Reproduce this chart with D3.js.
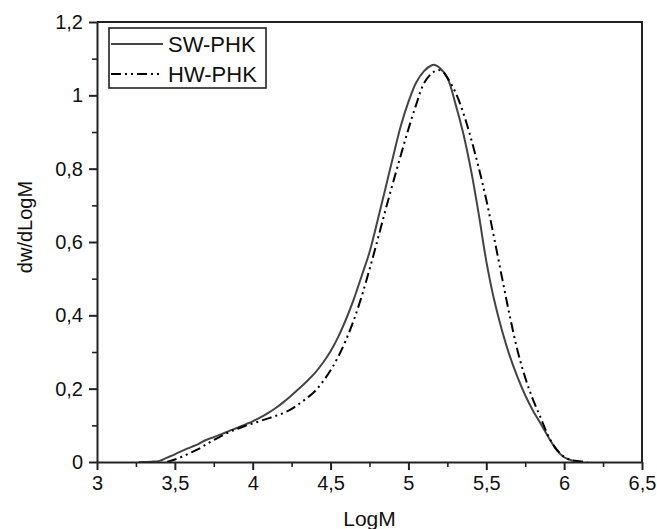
<!DOCTYPE html>
<html>
<head>
<meta charset="utf-8">
<script src="https://cdn.jsdelivr.net/npm/d3@7"></script>
<style>
  body { margin: 0; background: #fff; }
  svg { display: block; font-family: "Liberation Sans", Arial, sans-serif; }
</style>
</head>
<body>
<div id="chart-container"></div>
<script>
// molecular weight distribution
const swLogM = [3.27, 3.35, 3.40, 3.45, 3.50, 3.55, 3.60, 3.65, 3.70, 3.75, 3.80, 3.85, 3.90, 3.95, 4.00,
  4.05, 4.10, 4.15, 4.20, 4.25, 4.30, 4.35, 4.40, 4.45, 4.50, 4.55, 4.60, 4.65, 4.70, 4.75, 4.80, 4.85,
  4.90, 4.95, 5.00, 5.05, 5.10, 5.15, 5.17, 5.20, 5.25, 5.30, 5.35, 5.40, 5.45, 5.50, 5.55, 5.60, 5.65,
  5.70, 5.75, 5.80, 5.85, 5.90, 5.95, 6.00, 6.05, 6.10];
const swValues = [0, 0.001, 0.003, 0.012, 0.021, 0.031, 0.040, 0.049, 0.060, 0.068, 0.076, 0.085, 0.093, 0.102, 0.111,
  0.122, 0.134, 0.148, 0.164, 0.182, 0.201, 0.221, 0.243, 0.270, 0.302, 0.342, 0.390, 0.445, 0.508, 0.572, 0.655, 0.742,
  0.830, 0.915, 0.982, 1.035, 1.066, 1.082, 1.083, 1.075, 1.048, 0.980, 0.900, 0.800, 0.680, 0.548, 0.443, 0.360, 0.290,
  0.232, 0.182, 0.140, 0.104, 0.067, 0.034, 0.013, 0.004, 0];

const hwLogM = [3.45, 3.50, 3.55, 3.60, 3.65, 3.70, 3.75, 3.80, 3.85, 3.90, 3.95, 4.00, 4.05, 4.10, 4.15, 4.20,
  4.25, 4.30, 4.35, 4.40, 4.45, 4.50, 4.55, 4.60, 4.65, 4.70, 4.75, 4.80, 4.85, 4.90, 4.95, 5.00, 5.05, 5.10,
  5.15, 5.19, 5.22, 5.25, 5.30, 5.35, 5.40, 5.45, 5.50, 5.55, 5.60, 5.65, 5.70, 5.75, 5.80, 5.85, 5.90, 5.95,
  6.00, 6.05, 6.10, 6.15];
const hwValues = [0, 0.007, 0.015, 0.025, 0.035, 0.048, 0.060, 0.071, 0.082, 0.090, 0.098, 0.105, 0.112, 0.119, 0.126, 0.134,
  0.145, 0.159, 0.175, 0.193, 0.219, 0.250, 0.288, 0.334, 0.388, 0.452, 0.525, 0.603, 0.683, 0.760, 0.835, 0.908, 0.975, 1.033,
  1.060, 1.069, 1.065, 1.048, 1.010, 0.955, 0.885, 0.805, 0.715, 0.612, 0.505, 0.400, 0.305, 0.230, 0.170, 0.120, 0.070, 0.035,
  0.014, 0.005, 0.002, 0];

const seriesNames = ["SW-PHK", "HW-PHK"];
const xTicks = [3, 3.5, 4, 4.5, 5, 5.5, 6, 6.5];
const yTicks = [0, 0.2, 0.4, 0.6, 0.8, 1, 1.2];

((() => {
  const width = 657;
  const height = 529;
  const marginTop = 22;
  const marginRight = 15;
  const marginBottom = 67;
  const marginLeft = 97;

  const x = d3.scaleLinear()
    .domain([3, 6.5])
    .range([marginLeft, width - marginRight]);

  const y = d3.scaleLinear()
    .domain([0, 1.2])
    .range([height - marginBottom, marginTop]);

  const fmt = d => String(d).replace(".", ",");

  const svg = d3.create("svg")
    .attr("width", width)
    .attr("height", height)
    .attr("viewBox", [0, 0, width, height]);

  const series = [
    {name: seriesNames[0], data: swLogM.map((m, i) => [m, swValues[i]]), color: "#444", dash: null},
    {name: seriesNames[1], data: hwLogM.map((m, i) => [m, hwValues[i]]), color: "#000", dash: "10,4,2,4,2,4"}
  ];

  const line = d3.line()
    .x(d => x(d[0]))
    .y(d => y(d[1]))
    .curve(d3.curveCatmullRom.alpha(0.5));

  svg.append("g")
    .selectAll("path")
    .data(series)
    .join("path")
      .attr("fill", "none")
      .attr("stroke", d => d.color)
      .attr("stroke-width", 2)
      .attr("stroke-dasharray", d => d.dash)
      .attr("d", d => line(d.data));

  //minor ticks
  const xMinor = d3.range(3.25, 6.5, 0.5);
  const yMinor = d3.range(0.1, 1.2, 0.2);

  svg.append("g")
    .attr("transform", `translate(0,${height - marginBottom})`)
    .call(d3.axisBottom(x).tickValues(xMinor).tickSize(5).tickFormat("").tickSizeOuter(0))
    .call(g => g.select(".domain").remove())
    .selectAll("line").attr("stroke", "#222").attr("stroke-width", 1.6);

  svg.append("g")
    .attr("transform", `translate(${marginLeft},0)`)
    .call(d3.axisLeft(y).tickValues(yMinor).tickSize(5).tickFormat("").tickSizeOuter(0))
    .call(g => g.select(".domain").remove())
    .selectAll("line").attr("stroke", "#222").attr("stroke-width", 1.6);

  //x-axis
  const gx = svg.append("g")
    .attr("transform", `translate(0,${height - marginBottom})`)
    .call(d3.axisBottom(x).tickValues(xTicks).tickFormat(fmt).tickSize(8).tickPadding(6).tickSizeOuter(0));
  gx.selectAll("line, path").attr("stroke", "#222").attr("stroke-width", 2);
  gx.selectAll("text").style("font-size", "20px").attr("fill", "#111").attr("font-family", null);

  //y-axis
  const gy = svg.append("g")
    .attr("transform", `translate(${marginLeft},0)`)
    .call(d3.axisLeft(y).tickValues(yTicks).tickFormat(fmt).tickSize(8).tickPadding(6).tickSizeOuter(0));
  gy.selectAll("line, path").attr("stroke", "#222").attr("stroke-width", 2);
  gy.selectAll("text").style("font-size", "20px").attr("fill", "#111").attr("font-family", null);

  //frame top + right
  svg.append("path")
    .attr("fill", "none")
    .attr("stroke", "#222")
    .attr("stroke-width", 2)
    .attr("d", `M${marginLeft},${marginTop}H${width - marginRight}V${height - marginBottom}`);

  //axis titles
  svg.append("text")
    .attr("x", (marginLeft + width - marginRight) / 2)
    .attr("y", 526)
    .attr("text-anchor", "middle")
    .style("font-size", "21px")
    .attr("fill", "#111")
    .text("LogM");

  svg.append("text")
    .attr("transform", `translate(32,227) rotate(-90)`)
    .attr("text-anchor", "middle")
    .style("font-size", "20px")
    .attr("fill", "#111")
    .text("dw/dLogM");

  //legend
  const legend = svg.append("g");
  legend.append("rect")
    .attr("x", 109).attr("y", 28)
    .attr("width", 157).attr("height", 60)
    .attr("fill", "#fff")
    .attr("stroke", "#222")
    .attr("stroke-width", 1.6);

  series.forEach((s, i) => {
    const ly = 44 + i * 30;
    legend.append("line")
      .attr("x1", 111).attr("x2", 163)
      .attr("y1", ly).attr("y2", ly)
      .attr("stroke", s.color)
      .attr("stroke-width", 2)
      .attr("stroke-dasharray", s.dash);
    legend.append("text")
      .attr("x", 168).attr("y", ly + 8)
      .style("font-size", "22px")
      .attr("fill", "#111")
      .text(s.name);
  });

  d3.select("#chart-container").append(() => svg.node());
})());
</script>
</body>
</html>
